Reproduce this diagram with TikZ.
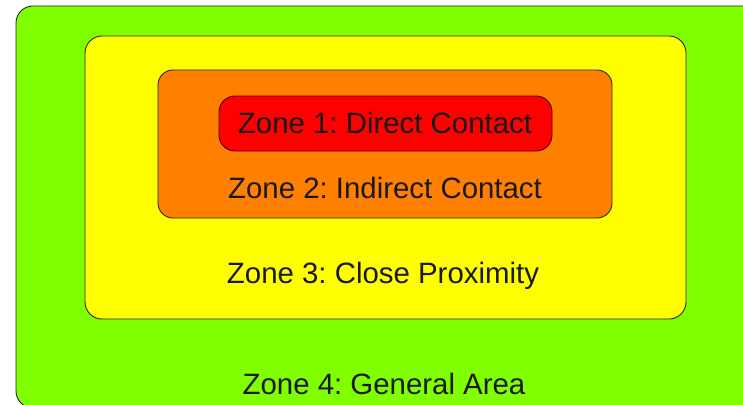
\documentclass[tikz,border=0pt]{standalone}
\usepackage{fontspec}
\setmainfont{Liberation Sans}
\frenchspacing
\definecolor{zgreen}{HTML}{80FF00}
\definecolor{zyellow}{HTML}{FFFF00}
\definecolor{zorange}{HTML}{FF8000}
\definecolor{zred}{HTML}{FF0000}
\tikzset{
  zone/.style={draw=black!85, line width=0.9pt},
  zlabel/.style={anchor=base, inner sep=0pt, font=\fontsize{29.4}{34}\selectfont\frenchspacing, text=black!90}
}
\begin{document}
\begin{tikzpicture}[x=1pt,y=-1pt]
\useasboundingbox (0,0) rectangle (743,404);
\fill[white] (0,0) rectangle (743,404);
\draw[zone, fill=zgreen, rounded corners=17pt] (16,6) rectangle (760,408);
\draw[zone, fill=zyellow, rounded corners=17pt] (85,36) rectangle (686,319);
\draw[zone, fill=zorange, rounded corners=15pt] (158,70) rectangle (612,218);
\draw[zone, draw=black!70!red, fill=zred, rounded corners=16pt] (219,96) rectangle (552,151);
\node[zlabel] (z1) at (385,133) {Zone 1: Direct Contact};
\node[zlabel] (z2) at (385,198) {Zone 2: Indirect Contact};
\node[zlabel] (z3) at (383,283) {Zone 3: Close Proximity};
\node[zlabel] (z4) at (384,394.5) {Zone 4: General Area};
\end{tikzpicture}
\end{document}
